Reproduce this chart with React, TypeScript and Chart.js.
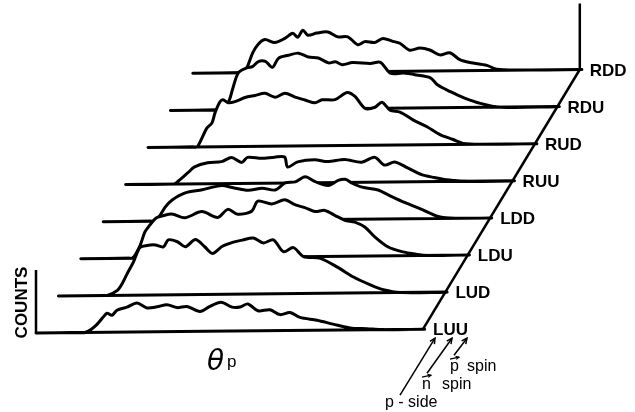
import { useEffect, useRef } from 'react';
import { Chart, registerables } from 'chart.js';

Chart.register(...registerables);

// ---- data: one spectrum per spin/side combination (front to back) ----
const spectrumLabels = ['LUU', 'LUD', 'LDU', 'LDD', 'RUU', 'RUD', 'RDU', 'RDD'];

const thetaLUU = [0, 45, 49, 55, 61, 67, 71, 76, 81, 91, 101, 111, 121, 131, 141, 151, 164, 174, 185, 196, 204, 212, 222, 234, 244, 254, 264, 281, 297, 314, 331, 345, 387];
const countsLUU = [0, 0, 0, 3, 8, 15, 19, 17, 22, 25, 29, 24, 25, 27, 24, 25, 20, 25, 29, 24, 24, 27, 20, 21, 16, 18, 13, 10, 6, 2, 1, 0, 0];

const thetaLUD = [0, 45, 49, 59, 64, 69, 75, 79, 82, 92, 97, 105, 110, 119, 127, 137, 146, 154, 164, 175, 184, 195, 205, 215, 225, 235, 245, 262, 279, 295, 312, 325, 342, 387];
const countsLUD = [0, 0, 0, 5, 12, 22, 33, 43, 48, 50, 50, 48, 55, 53, 48, 55, 48, 41, 48, 52, 54, 56, 51, 54, 42, 46, 37, 35, 26, 16, 8, 3, 0, 0];

const thetaLDU = [0, 48, 52, 59, 64, 69, 74, 77, 81, 91, 104, 121, 137, 147, 157, 171, 177, 191, 204, 214, 224, 234, 244, 254, 264, 274, 284, 294, 307, 321, 337, 346, 387];
const countsLDU = [0, 0, 0, 12, 26, 33, 39, 41, 42, 44, 40, 46, 40, 48, 43, 46, 56, 53, 57, 52, 49, 45, 46, 41, 36, 34, 29, 19, 9, 4, 1, 0, 0];

const thetaLDD = [0, 46, 50, 55, 62, 69, 82, 99, 112, 119, 129, 145, 159, 172, 182, 192, 202, 212, 225, 235, 242, 249, 259, 275, 285, 302, 319, 335, 352, 387];
const countsLDD = [0, 0, 0, 3, 14, 21, 28, 31, 34, 35, 33, 30, 32, 30, 37, 38, 43, 38, 34, 39, 40, 36, 32, 29, 24, 16, 9, 2, 0, 0];

const thetaRUU = [0, 45, 49, 55, 62, 69, 82, 96, 106, 116, 122, 136, 149, 159, 162, 172, 189, 202, 219, 236, 249, 259, 269, 282, 296, 309, 319, 335, 387];
const countsRUU = [0, 0, 0, 5, 11, 17, 21, 22, 26, 21, 26, 25, 26, 26, 16, 21, 23, 21, 23, 20, 25, 17, 20, 14, 7, 4, 2, 0, 0];

const thetaRUD = [0, 45, 49, 54, 59, 64, 67, 72, 75, 80, 87, 97, 107, 117, 127, 137, 147, 157, 167, 174, 187, 199, 207, 217, 227, 234, 242, 252, 265, 279, 292, 305, 315, 335, 387];
const countsRUD = [0, 0, 0, 9, 19, 24, 34, 45, 47, 44, 45, 49, 51, 53, 49, 53, 49, 46, 43, 46, 46, 53, 49, 37, 38, 43, 35, 33, 25, 18, 10, 5, 1, 0, 0];

const thetaRDU = [0, 44, 48, 58, 62, 68, 77, 82, 88, 95, 102, 108, 118, 128, 138, 148, 158, 165, 172, 182, 200, 210, 220, 233, 246, 260, 267, 280, 293, 310, 330, 387];
const countsRDU = [0, 0, 0, 8, 20, 37, 42, 43, 48, 48, 42, 51, 54, 56, 52, 51, 46, 47, 44, 46, 45, 46, 35, 35, 33, 30, 23, 16, 10, 4, 0, 0];

const thetaRDD = [0, 46, 50, 54, 60, 65, 72, 82, 92, 100, 105, 110, 115, 124, 135, 145, 155, 165, 172, 182, 190, 200, 207, 217, 227, 237, 247, 257, 267, 277, 294, 304, 324, 387];
const countsRDD = [0, 0, 0, 5, 20, 28, 33, 30, 34, 39, 35, 42, 37, 39, 40, 35, 35, 27, 30, 29, 33, 30, 28, 21, 23, 21, 16, 18, 11, 8, 5, 1, 0, 0];

const spectraTheta = [thetaLUU, thetaLUD, thetaLDU, thetaLDD, thetaRUU, thetaRUD, thetaRDU, thetaRDD];
const spectraCounts = [countsLUU, countsLUD, countsLDU, countsLDD, countsRUU, countsRUD, countsRDU, countsRDD];

const thetaMax = 387;
const countsAxisHeight = 63;
const backAxisHeight = 66;

// ---- oblique projection of the stacked spectra ----
const ORIGIN_X = 36;
const ORIGIN_Y = 79;
const STEP_X = 22.4;
const STEP_Y = 37.1;
const SLOPE = 0.0098;
const projX = (i: number, t: number) => ORIGIN_X + i * STEP_X + t;
const projY = (i: number, t: number, c: number) => ORIGIN_Y + i * STEP_Y + c + t * SLOPE;

const INK = '#000';

function drawArrow(ctx: CanvasRenderingContext2D, x1: number, y1: number, x2: number, y2: number, head: number) {
  ctx.beginPath();
  ctx.moveTo(x1, y1);
  ctx.lineTo(x2, y2);
  ctx.stroke();
  const a = Math.atan2(y2 - y1, x2 - x1);
  ctx.beginPath();
  ctx.moveTo(x2 - head * Math.cos(a - 0.45), y2 - head * Math.sin(a - 0.45));
  ctx.lineTo(x2, y2);
  ctx.lineTo(x2 - head * Math.cos(a + 0.45), y2 - head * Math.sin(a + 0.45));
  ctx.stroke();
}

const textPlugin = {
  id: 'stackText',
  beforeDraw(chart: any) {
    const { ctx } = chart;
    ctx.save();
    ctx.fillStyle = '#fff';
    ctx.fillRect(0, 0, chart.width, chart.height);
    ctx.restore();
  },
  afterDraw(chart: any) {
    const { ctx } = chart;
    const xs = chart.scales.x;
    const ys = chart.scales.y;
    ctx.save();
    ctx.fillStyle = INK;
    ctx.strokeStyle = INK;

    // spectrum labels at the right end of each baseline
    ctx.font = 'bold 17px "Liberation Sans", Arial, sans-serif';
    ctx.textBaseline = 'alphabetic';
    ctx.textAlign = 'left';
    spectrumLabels.forEach((lab, i) => {
      const px = xs.getPixelForValue(projX(i, thetaMax));
      const py = ys.getPixelForValue(projY(i, thetaMax, 0));
      ctx.fillText(lab, px + 10, py + 6);
    });

    // COUNTS axis title
    const ax = xs.getPixelForValue(projX(0, 0));
    const ay0 = ys.getPixelForValue(projY(0, 0, 0));
    const ay1 = ys.getPixelForValue(projY(0, 0, countsAxisHeight));
    ctx.save();
    ctx.translate(ax - 13.5, (ay0 + ay1) / 2 + 1);
    ctx.rotate(-Math.PI / 2);
    ctx.font = 'bold 17px "Liberation Sans", Arial, sans-serif';
    ctx.textAlign = 'center';
    ctx.textBaseline = 'middle';
    ctx.fillText('COUNTS', 0, 0);
    ctx.restore();

    // theta_p axis title
    const tx = xs.getPixelForValue(projX(0, 172));
    const ty = ys.getPixelForValue(projY(0, 0, 0));
    ctx.textAlign = 'left';
    ctx.font = 'italic 28px "DejaVu Sans", sans-serif';
    ctx.fillText('θ', tx - 1, ty + 37);
    ctx.font = '17px "Liberation Sans", Arial, sans-serif';
    ctx.fillText('p', tx + 19, ty + 34);

    // legend of the label letters under LUU
    const ex = xs.getPixelForValue(projX(0, thetaMax));
    const ey = ys.getPixelForValue(projY(0, thetaMax, 0));
    ctx.lineWidth = 1.5;
    drawArrow(ctx, ex - 23, ey + 66, ex + 12, ey + 9, 6);
    drawArrow(ctx, ex + 4, ey + 44, ex + 29, ey + 9, 6);
    drawArrow(ctx, ex + 31, ey + 26, ex + 44, ey + 9, 6);
    ctx.font = '16px "Liberation Sans", Arial, sans-serif';
    ctx.fillText('p - side', ex - 38, ey + 78);
    ctx.fillText('n', ex - 1, ey + 60);
    ctx.fillText('spin', ex + 19, ey + 60);
    ctx.fillText('p', ex + 27, ey + 42);
    ctx.fillText('spin', ex + 44, ey + 42);
    ctx.lineWidth = 1.2;
    drawArrow(ctx, ex - 1, ey + 48, ex + 8, ey + 46, 3.5);
    drawArrow(ctx, ex + 27, ey + 30, ex + 36, ey + 28, 3.5);
    ctx.restore();
  },
};

export default function App() {
  const canvasRef = useRef<HTMLCanvasElement | null>(null);

  useEffect(() => {
    const canvas = canvasRef.current;
    if (!canvas) return;

    const frameStyle = {
      borderColor: INK,
      borderWidth: 2.5,
      pointRadius: 0,
      fill: false,
      tension: 0,
    };

    const frameSets = [
      {
        label: 'counts axis',
        data: [
          { x: projX(0, 0), y: projY(0, 0, 0) },
          { x: projX(0, 0), y: projY(0, 0, countsAxisHeight) },
        ],
        ...frameStyle,
      },
      {
        label: 'back axis',
        data: [
          { x: projX(7, thetaMax), y: projY(7, thetaMax, 0) },
          { x: projX(7, thetaMax), y: projY(7, thetaMax, backAxisHeight) },
        ],
        ...frameStyle,
      },
      {
        label: 'label axis',
        data: [
          { x: projX(0, thetaMax), y: projY(0, thetaMax, 0) },
          { x: projX(7, thetaMax), y: projY(7, thetaMax, 0) },
        ],
        ...frameStyle,
      },
    ];

    const spectrumSets = spectrumLabels.map((lab, i) => {
      const th = spectraTheta[i];
      const ct = spectraCounts[i];
      const pts = th.map((t, k) => ({ x: projX(i, t), y: projY(i, t, ct[k]) }));
      pts.push({ x: projX(i, 0), y: projY(i, 0, 0) });
      return {
        label: lab,
        data: pts,
        borderColor: INK,
        borderWidth: 3,
        backgroundColor: '#fff',
        fill: 'shape',
        pointRadius: 0,
        tension: 0.3,
        borderJoinStyle: 'round',
        borderCapStyle: 'round',
      };
    });

    const chart = new Chart(canvas, {
      type: 'line',
      data: { datasets: [...frameSets, ...spectrumSets] as any },
      options: {
        animation: false,
        responsive: false,
        maintainAspectRatio: false,
        devicePixelRatio: 1,
        layout: { padding: 0 },
        parsing: false as any,
        normalized: true,
        plugins: {
          legend: { display: false },
          tooltip: { enabled: false },
          title: { display: false },
        },
        scales: {
          x: { type: 'linear', min: 0, max: 635, display: false },
          y: { type: 'linear', min: 0, max: 412, display: false },
        },
      },
      plugins: [textPlugin],
    });

    return () => chart.destroy();
  }, []);

  return (
    <div style={{ position: 'absolute', left: 0, top: 0, width: 635, height: 412, background: '#fff' }}>
      <canvas ref={canvasRef} width={635} height={412} style={{ display: 'block' }} />
    </div>
  );
}
